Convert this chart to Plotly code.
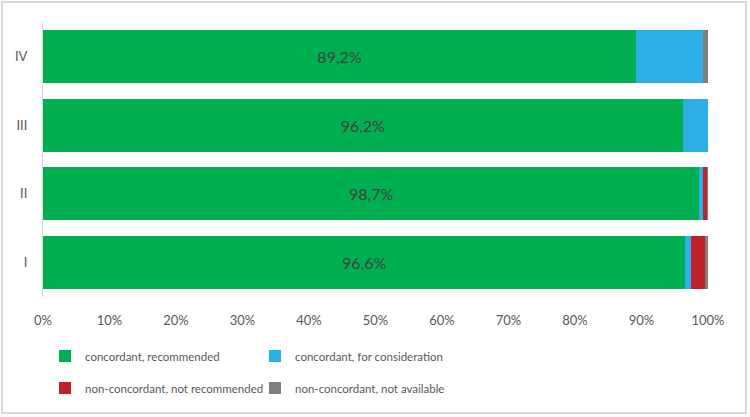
import plotly.graph_objects as go

categories = ["I", "II", "III", "IV"]
series_names = [
    "concordant, recommended",
    "concordant, for consideration",
    "non-concordant, not recommended",
    "non-concordant, not available",
]
rec = [96.6, 98.7, 96.2, 89.2]
consid = [0.8, 0.5, 3.8, 10.1]
not_rec = [2.1, 0.7, 0.0, 0.0]
not_avail = [0.5, 0.1, 0.0, 0.7]
rec_labels = ["96,6%", "98,7%", "96,2%", "89,2%"]
x_ticks = [0, 10, 20, 30, 40, 50, 60, 70, 80, 90, 100]
x_tick_labels = [f"{v}%" for v in x_ticks]

colors = ["#00b050", "#2eaee6", "#c0202a", "#7f7f7f"]
FONT = "Lato"
LEG_FONT = dict(family=FONT, size=11.5, color="#595959")

fig = go.Figure()
values = [rec, consid, not_rec, not_avail]
legend_ids = ["legend", "legend2", "legend3", "legend4"]
for i, (name, vals) in enumerate(zip(series_names, values)):
    fig.add_trace(go.Bar(
        y=categories, x=vals, name=name, orientation="h",
        marker=dict(color=colors[i], line=dict(width=0)),
        text=rec_labels if i == 0 else None,
        textposition="inside" if i == 0 else "none",
        insidetextanchor="middle",
        textfont=dict(family=FONT, size=16, color="#404040"),
        hoverinfo="x+name",
        legend=legend_ids[i],
        showlegend=True,
    ))

def leg(x, y):
    return dict(xref="container", yref="container", x=x, y=y,
                xanchor="left", yanchor="middle", orientation="h",
                itemwidth=30, font=LEG_FONT, bgcolor="rgba(0,0,0,0)",
                borderwidth=0)

fig.update_layout(
    showlegend=True,
    barmode="stack",
    bargap=0.23,
    width=750, height=417,
    margin=dict(l=43, r=42, t=22, b=120),
    paper_bgcolor="white", plot_bgcolor="white",
    font=dict(family=FONT, size=13, color="#595959"),
    uniformtext=dict(mode="show", minsize=8),
    legend=leg(0.0600, 1 - 356 / 417),
    legend2=leg(0.3400, 1 - 356 / 417),
    legend3=leg(0.0600, 1 - 388 / 417),
    legend4=leg(0.3400, 1 - 388 / 417),
    xaxis=dict(range=[0, 100], tickvals=x_ticks, ticktext=x_tick_labels,
               showgrid=False, zeroline=False, showline=False, ticks="",
               ticklabelstandoff=14, automargin=False,
               tickfont=dict(family=FONT, size=13, color="#595959")),
    yaxis=dict(categoryorder="array", categoryarray=categories,
               showgrid=False, zeroline=False, showline=True,
               linecolor="#d9d9d9", linewidth=1, ticks="",
               ticklabelstandoff=12, automargin=False,
               tickfont=dict(family=FONT, size=13, color="#595959")),
    shapes=[dict(type="rect", xref="paper", yref="paper",
                 x0=(2 - 43) / 665, x1=(746 - 43) / 665,
                 y0=(297 - 413) / 275, y1=(297 - 2) / 275,
                 line=dict(color="#d9d9d9", width=2), fillcolor="rgba(0,0,0,0)",
                 layer="below")],
)

fig.write_html("out.html",
               config={"displayModeBar": False},
               post_script="document.body.style.margin='0';document.body.style.padding='0';")
